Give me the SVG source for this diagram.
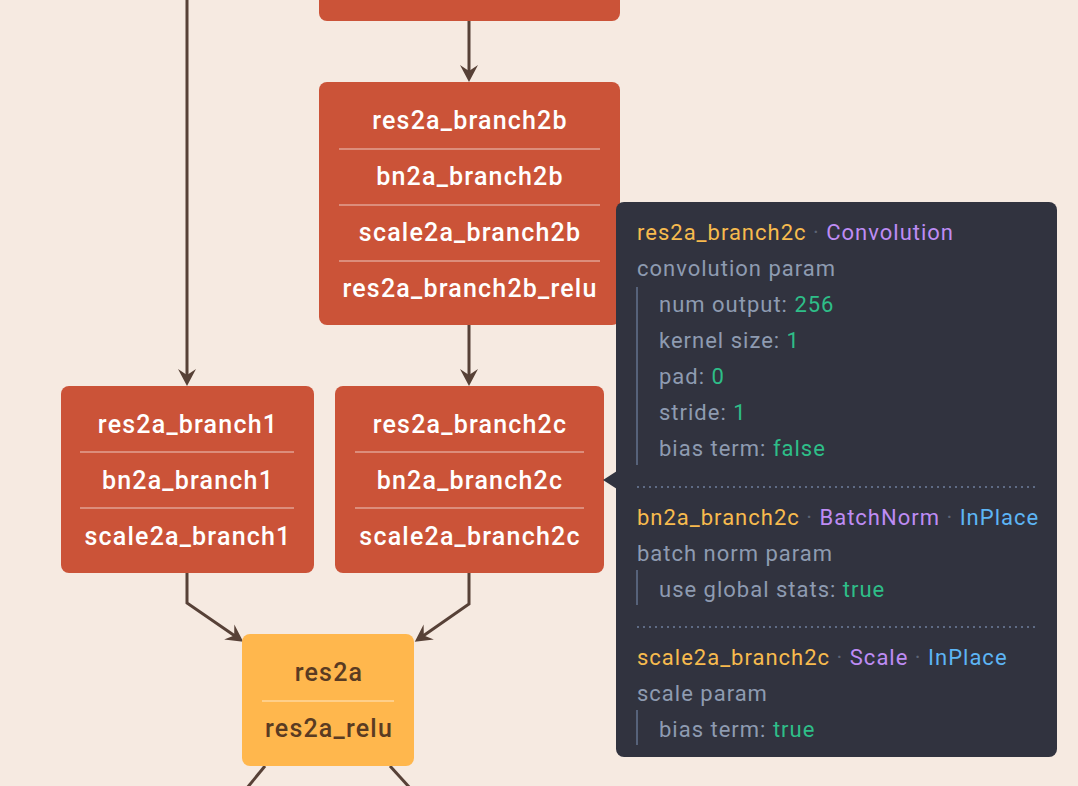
<svg xmlns="http://www.w3.org/2000/svg" width="1078" height="786" viewBox="0 0 1078 786">
<style>
.bg{fill:#F6EAE1}
.layer{fill:#CB5338}
.elt{fill:#FFB74D}
.lt{font-family:Roboto,"Liberation Sans",sans-serif;font-size:25px;font-weight:500;letter-spacing:1.2px;fill:#FFFFFF;text-anchor:middle}
.et{font-family:Roboto,"Liberation Sans",sans-serif;font-size:25px;font-weight:500;letter-spacing:1.2px;fill:#5A3B22;text-anchor:middle}
.sep{stroke:#FFFFFF;stroke-opacity:0.45;stroke-width:1.5}
.edge{fill:none;stroke:#574137;stroke-width:3}
.tip{fill:#31333F}
.tt{font-family:Roboto,"Liberation Sans",sans-serif;font-size:22px;letter-spacing:1px;fill:#8E9BB1}
.nm{fill:#F7BB4E}
.ty{fill:#BE8CF4}
.ip{fill:#5DB5F5}
.dt{fill:#5C6475}
.v{fill:#2EBE88}
.bar{stroke:#56627A;stroke-width:2}
.dots{stroke:#5E6B85;stroke-width:2;stroke-dasharray:2 4}
</style>
<defs>
<marker id="arr" viewBox="-18 -10 20 20" refX="-10" refY="0" markerWidth="20" markerHeight="20" markerUnits="userSpaceOnUse" orient="auto">
<path d="M0,0 L-17,-9 L-11,0 L-17,9 Z" fill="#574137"/>
</marker>
</defs>
<rect class="bg" x="0" y="0" width="1078" height="786"/>
<g id="connectors">
<path class="edge" d="M469,21 L469,72" marker-end="url(#arr)"/>
<path class="edge" d="M187,0 L187,376" marker-end="url(#arr)"/>
<path class="edge" d="M469,325 L469,376" marker-end="url(#arr)"/>
<path class="edge" d="M187,573 L187,603 L235,636" marker-end="url(#arr)"/>
<path class="edge" d="M469,573 L469,604 L423,636" marker-end="url(#arr)"/>
<path class="edge" d="M265,766 L247,788"/>
<path class="edge" d="M390,766 L410,788"/>
</g>
<g id="node-top">
<rect class="layer" x="319" y="-20" width="301" height="41" rx="8"/>
</g>
<g id="node-res2a_branch2b">
<rect class="layer" x="319" y="82" width="301" height="243" rx="8"/>
<text class="lt" x="470" y="128.5">res2a_branch2b</text>
<line class="sep" x1="339" y1="149" x2="600" y2="149"/>
<text class="lt" x="470" y="184.5">bn2a_branch2b</text>
<line class="sep" x1="339" y1="205" x2="600" y2="205"/>
<text class="lt" x="470" y="240.5">scale2a_branch2b</text>
<line class="sep" x1="339" y1="261" x2="600" y2="261"/>
<text class="lt" x="470" y="296.5">res2a_branch2b_relu</text>
</g>
<g id="node-res2a_branch1">
<rect class="layer" x="61" y="386" width="253" height="187" rx="8"/>
<text class="lt" x="188" y="432.5">res2a_branch1</text>
<line class="sep" x1="80" y1="452" x2="294" y2="452"/>
<text class="lt" x="188" y="488.5">bn2a_branch1</text>
<line class="sep" x1="80" y1="508" x2="294" y2="508"/>
<text class="lt" x="188" y="544.5">scale2a_branch1</text>
</g>
<g id="node-res2a_branch2c">
<rect class="layer" x="335" y="386" width="269" height="187" rx="8"/>
<text class="lt" x="470" y="432.5">res2a_branch2c</text>
<line class="sep" x1="355" y1="452" x2="584" y2="452"/>
<text class="lt" x="470" y="488.5">bn2a_branch2c</text>
<line class="sep" x1="355" y1="508" x2="584" y2="508"/>
<text class="lt" x="470" y="544.5">scale2a_branch2c</text>
</g>
<g id="node-res2a">
<rect class="elt" x="242" y="634" width="172" height="132" rx="8"/>
<text class="et" x="329" y="680.5">res2a</text>
<line class="sep" x1="262" y1="701" x2="394" y2="701"/>
<text class="et" x="329" y="736.5">res2a_relu</text>
</g>
<g id="tooltip">
<rect class="tip" x="616" y="202" width="441" height="555" rx="8"/>
<path class="tip" d="M603,480 L617,471 L617,489 Z"/>
<text class="tt" x="637" y="239.5"><tspan class="nm">res2a_branch2c</tspan><tspan class="dt"> · </tspan><tspan class="ty">Convolution</tspan></text>
<text class="tt" x="637" y="275.5">convolution param</text>
<line class="bar" x1="637" y1="287" x2="637" y2="465"/>
<text class="tt" x="659" y="311.5">num output: <tspan class="v">256</tspan></text>
<text class="tt" x="659" y="347.5">kernel size: <tspan class="v">1</tspan></text>
<text class="tt" x="659" y="383.5">pad: <tspan class="v">0</tspan></text>
<text class="tt" x="659" y="419.5">stride: <tspan class="v">1</tspan></text>
<text class="tt" x="659" y="455.5">bias term: <tspan class="v">false</tspan></text>
<line class="dots" x1="637" y1="487" x2="1038" y2="487"/>
<text class="tt" x="637" y="524.5"><tspan class="nm">bn2a_branch2c</tspan><tspan class="dt"> · </tspan><tspan class="ty">BatchNorm</tspan><tspan class="dt"> · </tspan><tspan class="ip">InPlace</tspan></text>
<text class="tt" x="637" y="560.5">batch norm param</text>
<line class="bar" x1="637" y1="570" x2="637" y2="605"/>
<text class="tt" x="659" y="596.5">use global stats: <tspan class="v">true</tspan></text>
<line class="dots" x1="637" y1="627" x2="1038" y2="627"/>
<text class="tt" x="637" y="664.5"><tspan class="nm">scale2a_branch2c</tspan><tspan class="dt"> · </tspan><tspan class="ty">Scale</tspan><tspan class="dt"> · </tspan><tspan class="ip">InPlace</tspan></text>
<text class="tt" x="637" y="700.5">scale param</text>
<line class="bar" x1="637" y1="710" x2="637" y2="745"/>
<text class="tt" x="659" y="736.5">bias term: <tspan class="v">true</tspan></text>
</g>
</svg>
